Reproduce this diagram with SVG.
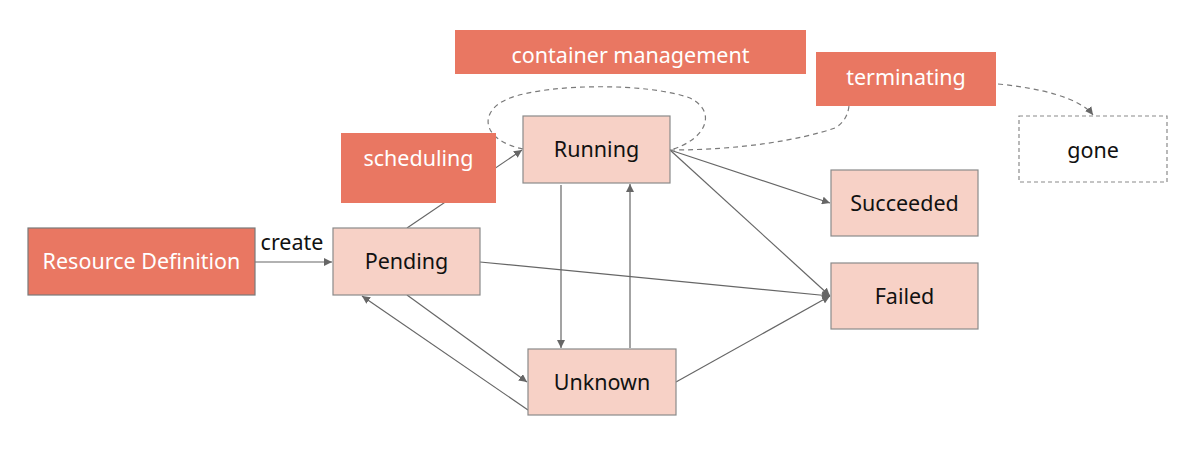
<svg xmlns="http://www.w3.org/2000/svg" width="1196" height="466" viewBox="0 0 1196 466">
  <style>
    .dark { fill: #E97762; stroke: none; }
    .dark.bordered { stroke: #7a7a7a; stroke-width: 1.2; }
    .light { fill: #F7D1C6; stroke: #8a8a8a; stroke-width: 1.2; }
    .ghost { fill: #ffffff; stroke: #8a8a8a; stroke-width: 1.2; stroke-dasharray: 4 3; }
    text { font-family: "Noto Sans", "Open Sans", sans-serif; font-size: 21.5px; text-anchor: middle; dominant-baseline: central; }
    .wt { fill: #ffffff; }
    .bt { fill: #111111; }
    .edge { fill: none; stroke: #666666; stroke-width: 1.2; }
    .dash { fill: none; stroke: #7a7a7a; stroke-width: 1.2; stroke-dasharray: 5 4; }
  </style>
  <defs>
    <marker id="arrow" viewBox="0 0 10 10" refX="10" refY="5" markerWidth="8" markerHeight="8" markerUnits="userSpaceOnUse" orient="auto">
      <path d="M0,0 L10,5 L0,10 z" fill="#666666"/>
    </marker>
  </defs>

  <!-- connectors (drawn first so label boxes sit on top) -->
  <g id="connectors">
    <line class="edge" x1="255" y1="262" x2="332" y2="262" marker-end="url(#arrow)"/>
    <line class="edge" x1="407" y1="228" x2="522" y2="150" marker-end="url(#arrow)"/>
    <line class="edge" x1="670" y1="150" x2="830" y2="203" marker-end="url(#arrow)"/>
    <line class="edge" x1="670" y1="150" x2="830" y2="296" marker-end="url(#arrow)"/>
    <line class="edge" x1="480" y1="262" x2="830" y2="296" marker-end="url(#arrow)"/>
    <line class="edge" x1="676" y1="382" x2="830" y2="296" marker-end="url(#arrow)"/>
    <line class="edge" x1="561" y1="185" x2="561" y2="348" marker-end="url(#arrow)"/>
    <line class="edge" x1="630" y1="348" x2="630" y2="184" marker-end="url(#arrow)"/>
    <line class="edge" x1="407" y1="295" x2="527" y2="382" marker-end="url(#arrow)"/>
    <line class="edge" x1="528" y1="410" x2="362" y2="296" marker-end="url(#arrow)"/>
    <!-- self loop on Running -->
    <path class="dash" d="M523,149 C480,140 478,110 510,98 C550,83 650,83 690,98 C718,112 706,140 670,150"/>
    <!-- Running to terminating -->
    <path class="dash" d="M670,150 C740,150 800,140 835,128 C845,122 848,114 849,106"/>
    <!-- terminating to gone -->
    <path class="dash" d="M998,84 C1040,88 1080,98 1093,115" marker-end="url(#arrow)"/>
  </g>

  <g id="resource-definition">
    <rect class="dark bordered" x="28" y="228" width="227" height="67"/>
    <text class="wt" x="141.5" y="260.5">Resource Definition</text>
  </g>
  <g id="create-label">
    <text class="bt" x="292" y="241">create</text>
  </g>
  <g id="pending">
    <rect class="light" x="333" y="228" width="147" height="67"/>
    <text class="bt" x="406.5" y="260.5">Pending</text>
  </g>
  <g id="scheduling">
    <rect class="dark" x="341" y="133" width="155" height="70"/>
    <text class="wt" x="418.5" y="157">scheduling</text>
  </g>
  <g id="running">
    <rect class="light" x="523" y="116" width="147" height="67"/>
    <text class="bt" x="596.5" y="148">Running</text>
  </g>
  <g id="container-management">
    <rect class="dark" x="455" y="30" width="351" height="44"/>
    <text class="wt" x="630.5" y="54">container management</text>
  </g>
  <g id="terminating">
    <rect class="dark" x="816" y="52" width="180" height="54"/>
    <text class="wt" x="906" y="76">terminating</text>
  </g>
  <g id="gone">
    <rect class="ghost" x="1019" y="116" width="148" height="66"/>
    <text class="bt" x="1093" y="149">gone</text>
  </g>
  <g id="succeeded">
    <rect class="light" x="831" y="170" width="147" height="66"/>
    <text class="bt" x="904.5" y="202">Succeeded</text>
  </g>
  <g id="failed">
    <rect class="light" x="831" y="263" width="147" height="66"/>
    <text class="bt" x="904.5" y="295">Failed</text>
  </g>
  <g id="unknown">
    <rect class="light" x="528" y="349" width="148" height="66"/>
    <text class="bt" x="602" y="381">Unknown</text>
  </g>
</svg>
